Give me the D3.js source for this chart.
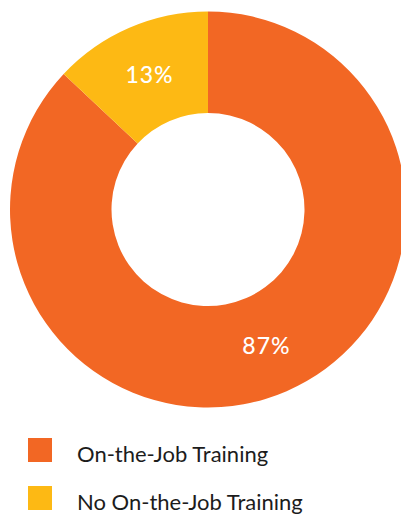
<!DOCTYPE html>
<html>
<head>
    <style>
        body { margin: 0; background: #fff; font-family: Lato, sans-serif; }
        .slice-label { fill: #fff; font-size: 23px; font-weight: 500; letter-spacing: 1px; text-anchor: middle; dominant-baseline: central; }
        .legend text { fill: #1c1c1c; font-size: 22px; dominant-baseline: alphabetic; }
    </style>
    <script src="https://d3js.org/d3.v7.min.js"></script>
</head>
<body>
<div id="chart"></div>
<script>
    const categories = ['On-the-Job Training', 'No On-the-Job Training'];
    const values = [87, 13];
    const colors = ['#f26724', '#fdb914'];

    const width = 401, height = 514;
    const cx = 208, cy = 209.5,
          outerR = 198, innerR = 96.5;

    const svg = d3.select('#chart').append('svg')
            .attr('width', width)
            .attr('height', height);

    const pie = d3.pie()
            .sort(null)
            .value(d => d.value)
            .startAngle(0)
            .endAngle(2 * Math.PI);

    const data = categories.map((c, i) => ({ name: c, value: values[i], color: colors[i] }));

    const arc = d3.arc().innerRadius(innerR).outerRadius(outerR);

    const g = svg.append('g').attr('transform', `translate(${cx},${cy})`);

    const slices = g.selectAll('g.slice')
            .data(pie(data))
            .enter().append('g').attr('class', 'slice');

    slices.append('path')
            .attr('d', arc)
            .style('fill', d => d.data.color);

    slices.append('text')
            .attr('class', 'slice-label')
            .attr('transform', d => `translate(${arc.centroid(d)})`)
            .text(d => d.data.value + '%');

    // legend
    const legend = svg.append('g').attr('class', 'legend')
            .attr('transform', 'translate(28,438)');

    const item = legend.selectAll('g')
            .data(data)
            .enter().append('g')
            .attr('transform', (_, i) => `translate(0,${i * 48})`);

    item.append('rect')
            .attr('width', 24)
            .attr('height', 24)
            .style('fill', d => d.color);

    item.append('text')
            .attr('x', 49)
            .attr('y', 24)
            .text(d => d.name);
</script>
</body>
</html>
